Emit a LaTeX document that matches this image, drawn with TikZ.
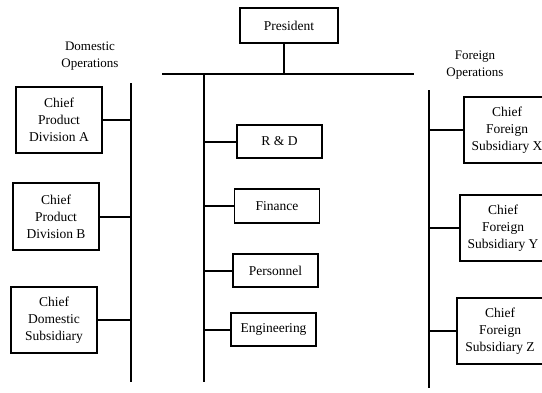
\documentclass[tikz,border=0pt]{standalone}
\usepackage{fontspec}
\setmainfont{Liberation Serif}
\begin{document}
\begin{tikzpicture}[x=1pt,y=-1pt,
  box/.style={draw,line width=1.8pt,inner sep=0pt,align=center,
    font=\fontsize{13.5}{17}\selectfont},
  lbl/.style={align=center,inner sep=0pt,font=\fontsize{13}{17}\selectfont},
  ln/.style={line width=2pt}]
\useasboundingbox (0,0) rectangle (542,392);
\clip (0,0) rectangle (542,392);
% center column
\node[box,minimum width=98pt,minimum height=35pt] (pres) at (289,25.5) {President};
\coordinate (hl) at (162,74);
\coordinate (hr) at (414,74);
\coordinate (pj) at (284,74);
\coordinate (mtop) at (204,74);
\coordinate (mbot) at (204,382);
\draw[ln] (hl) -- (hr);
\draw[ln] (pres.south -| pj) -- (pj);
\draw[ln] (mtop) -- (mbot);
\node[box,minimum width=85pt,minimum height=33pt] (rd) at (279.5,141.5) {R \& D};
\node[box,minimum width=85pt,minimum height=34pt] (fin) at (277,206) {Finance};
\node[box,minimum width=85pt,minimum height=33pt] (per) at (275.5,270.5) {Personnel};
\node[box,minimum width=85pt,minimum height=33pt] (eng) at (273.5,329.5) {Engineering};
\foreach \n in {rd,fin,per,eng} \draw[ln] (\n.west) -- (\n.west -| mtop);
% domestic
\node[lbl] (dom) at (90,56) {Domestic\\Operations};
\coordinate (ltop) at (131,83);
\coordinate (lbot) at (131,382);
\draw[ln] (ltop) -- (lbot);
\node[box,minimum width=86pt,minimum height=66pt] (pa) at (59,120) {Chief\\Product\\Division A};
\node[box,minimum width=86pt,minimum height=67pt] (pb) at (56,216.5) {Chief\\Product\\Division B};
\node[box,minimum width=86pt,minimum height=66pt] (ds) at (54,320) {Chief\\Domestic\\Subsidiary};
\foreach \n in {pa,pb,ds} \draw[ln] (\n.east) -- (\n.east -| ltop);
% foreign
\node[lbl] (for) at (475,65) {Foreign\\Operations};
\coordinate (rtop) at (429,90);
\coordinate (rbot) at (429,388);
\draw[ln] (rtop) -- (rbot);
\node[box,minimum width=86pt,minimum height=66pt] (fx) at (507,130) {Chief\\Foreign\\Subsidiary X};
\node[box,minimum width=86pt,minimum height=66pt] (fy) at (503,228) {Chief\\Foreign\\Subsidiary Y};
\node[box,minimum width=86pt,minimum height=66pt] (fz) at (500,331) {Chief\\Foreign\\Subsidiary Z};
\foreach \n in {fx,fy,fz} \draw[ln] (\n.west) -- (\n.west -| rtop);
\end{tikzpicture}
\end{document}
